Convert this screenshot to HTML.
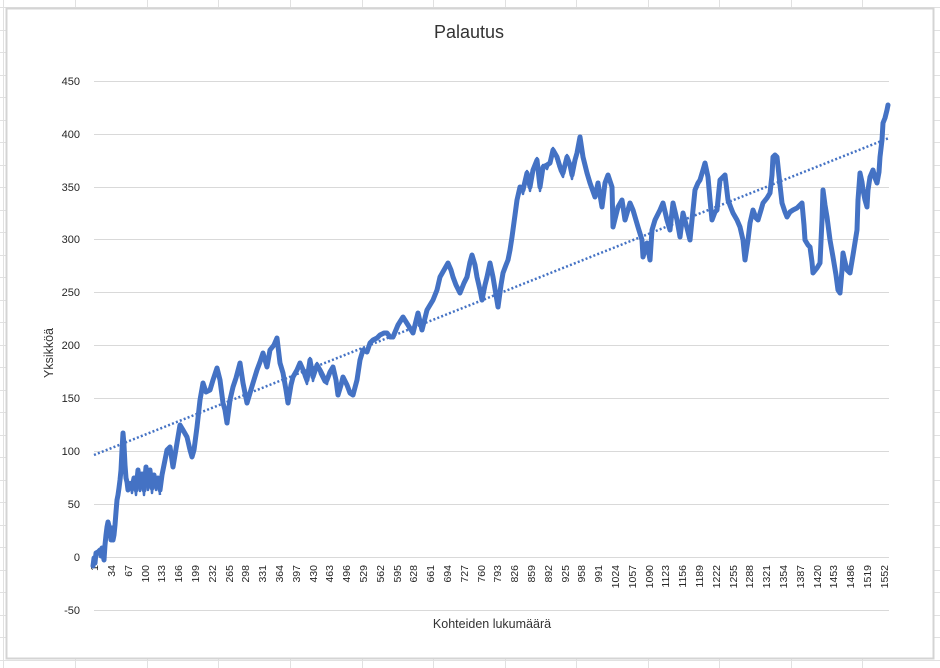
<!DOCTYPE html>
<html>
<head>
<meta charset="utf-8">
<style>
  html,body{margin:0;padding:0;background:#fff;}
  svg{display:block;}
  text{font-family:"Liberation Sans",Arial,sans-serif;}
</style>
</head>
<body>
<svg width="940" height="668" viewBox="0 0 940 668" xmlns="http://www.w3.org/2000/svg">
  <rect x="0" y="0" width="940" height="668" fill="#ffffff"/>
  <g stroke="#e1e1e1" stroke-width="1">
    <line x1="3.5" y1="0" x2="3.5" y2="668"/>
    <line x1="75.5" y1="0" x2="75.5" y2="668"/>
    <line x1="147.5" y1="0" x2="147.5" y2="668"/>
    <line x1="218.5" y1="0" x2="218.5" y2="668"/>
    <line x1="290.5" y1="0" x2="290.5" y2="668"/>
    <line x1="362.5" y1="0" x2="362.5" y2="668"/>
    <line x1="433.5" y1="0" x2="433.5" y2="668"/>
    <line x1="505.5" y1="0" x2="505.5" y2="668"/>
    <line x1="576.5" y1="0" x2="576.5" y2="668"/>
    <line x1="648.5" y1="0" x2="648.5" y2="668"/>
    <line x1="719.5" y1="0" x2="719.5" y2="668"/>
    <line x1="791.5" y1="0" x2="791.5" y2="668"/>
    <line x1="862.5" y1="0" x2="862.5" y2="668"/>
    <line x1="0" y1="7.5" x2="940" y2="7.5"/>
    <line x1="0" y1="30.5" x2="940" y2="30.5"/>
    <line x1="0" y1="52.5" x2="940" y2="52.5"/>
    <line x1="0" y1="75.5" x2="940" y2="75.5"/>
    <line x1="0" y1="97.5" x2="940" y2="97.5"/>
    <line x1="0" y1="120.5" x2="940" y2="120.5"/>
    <line x1="0" y1="142.5" x2="940" y2="142.5"/>
    <line x1="0" y1="165.5" x2="940" y2="165.5"/>
    <line x1="0" y1="187.5" x2="940" y2="187.5"/>
    <line x1="0" y1="210.5" x2="940" y2="210.5"/>
    <line x1="0" y1="232.5" x2="940" y2="232.5"/>
    <line x1="0" y1="255.5" x2="940" y2="255.5"/>
    <line x1="0" y1="277.5" x2="940" y2="277.5"/>
    <line x1="0" y1="300.5" x2="940" y2="300.5"/>
    <line x1="0" y1="322.5" x2="940" y2="322.5"/>
    <line x1="0" y1="345.5" x2="940" y2="345.5"/>
    <line x1="0" y1="367.5" x2="940" y2="367.5"/>
    <line x1="0" y1="390.5" x2="940" y2="390.5"/>
    <line x1="0" y1="412.5" x2="940" y2="412.5"/>
    <line x1="0" y1="435.5" x2="940" y2="435.5"/>
    <line x1="0" y1="457.5" x2="940" y2="457.5"/>
    <line x1="0" y1="480.5" x2="940" y2="480.5"/>
    <line x1="0" y1="502.5" x2="940" y2="502.5"/>
    <line x1="0" y1="525.5" x2="940" y2="525.5"/>
    <line x1="0" y1="547.5" x2="940" y2="547.5"/>
    <line x1="0" y1="570.5" x2="940" y2="570.5"/>
    <line x1="0" y1="592.5" x2="940" y2="592.5"/>
    <line x1="0" y1="615.5" x2="940" y2="615.5"/>
    <line x1="0" y1="637.5" x2="940" y2="637.5"/>
    <line x1="0" y1="660.5" x2="940" y2="660.5"/>
  </g>

  <rect x="6.5" y="8.5" width="927" height="650" fill="#ffffff" stroke="#d4d4d4" stroke-width="2"/>

  <g stroke="#d9d9d9" stroke-width="1">
    <line x1="94" y1="81.5" x2="889" y2="81.5"/>
    <line x1="94" y1="134.5" x2="889" y2="134.5"/>
    <line x1="94" y1="187.5" x2="889" y2="187.5"/>
    <line x1="94" y1="239.5" x2="889" y2="239.5"/>
    <line x1="94" y1="292.5" x2="889" y2="292.5"/>
    <line x1="94" y1="345.5" x2="889" y2="345.5"/>
    <line x1="94" y1="398.5" x2="889" y2="398.5"/>
    <line x1="94" y1="451.5" x2="889" y2="451.5"/>
    <line x1="94" y1="504.5" x2="889" y2="504.5"/>
    <line x1="94" y1="557.5" x2="889" y2="557.5"/>
    <line x1="94" y1="610.5" x2="889" y2="610.5"/>
  </g>

  <text x="469" y="38" font-size="18" fill="#333" text-anchor="middle">Palautus</text>

  <g font-size="11" fill="#262626" text-anchor="end">
    <text x="80" y="85">450</text>
    <text x="80" y="138">400</text>
    <text x="80" y="191">350</text>
    <text x="80" y="243">300</text>
    <text x="80" y="296">250</text>
    <text x="80" y="349">200</text>
    <text x="80" y="402">150</text>
    <text x="80" y="455">100</text>
    <text x="80" y="508">50</text>
    <text x="80" y="561">0</text>
    <text x="80" y="614">-50</text>
  </g>

  <text transform="translate(53,353) rotate(-90)" font-size="12.5" fill="#333" text-anchor="middle">Yksikköä</text>

  <text x="492" y="628" font-size="12.5" fill="#333" text-anchor="middle">Kohteiden lukumäärä</text>

  <g font-size="10.5" fill="#262626" text-anchor="end">
    <text transform="translate(98,565) rotate(-90)">1</text>
    <text transform="translate(115,565) rotate(-90)">34</text>
    <text transform="translate(132,565) rotate(-90)">67</text>
    <text transform="translate(149,565) rotate(-90)">100</text>
    <text transform="translate(165,565) rotate(-90)">133</text>
    <text transform="translate(182,565) rotate(-90)">166</text>
    <text transform="translate(199,565) rotate(-90)">199</text>
    <text transform="translate(216,565) rotate(-90)">232</text>
    <text transform="translate(233,565) rotate(-90)">265</text>
    <text transform="translate(249,565) rotate(-90)">298</text>
    <text transform="translate(266,565) rotate(-90)">331</text>
    <text transform="translate(283,565) rotate(-90)">364</text>
    <text transform="translate(300,565) rotate(-90)">397</text>
    <text transform="translate(317,565) rotate(-90)">430</text>
    <text transform="translate(333,565) rotate(-90)">463</text>
    <text transform="translate(350,565) rotate(-90)">496</text>
    <text transform="translate(367,565) rotate(-90)">529</text>
    <text transform="translate(384,565) rotate(-90)">562</text>
    <text transform="translate(401,565) rotate(-90)">595</text>
    <text transform="translate(417,565) rotate(-90)">628</text>
    <text transform="translate(434,565) rotate(-90)">661</text>
    <text transform="translate(451,565) rotate(-90)">694</text>
    <text transform="translate(468,565) rotate(-90)">727</text>
    <text transform="translate(485,565) rotate(-90)">760</text>
    <text transform="translate(501,565) rotate(-90)">793</text>
    <text transform="translate(518,565) rotate(-90)">826</text>
    <text transform="translate(535,565) rotate(-90)">859</text>
    <text transform="translate(552,565) rotate(-90)">892</text>
    <text transform="translate(569,565) rotate(-90)">925</text>
    <text transform="translate(585,565) rotate(-90)">958</text>
    <text transform="translate(602,565) rotate(-90)">991</text>
    <text transform="translate(619,565) rotate(-90)">1024</text>
    <text transform="translate(636,565) rotate(-90)">1057</text>
    <text transform="translate(653,565) rotate(-90)">1090</text>
    <text transform="translate(669,565) rotate(-90)">1123</text>
    <text transform="translate(686,565) rotate(-90)">1156</text>
    <text transform="translate(703,565) rotate(-90)">1189</text>
    <text transform="translate(720,565) rotate(-90)">1222</text>
    <text transform="translate(737,565) rotate(-90)">1255</text>
    <text transform="translate(753,565) rotate(-90)">1288</text>
    <text transform="translate(770,565) rotate(-90)">1321</text>
    <text transform="translate(787,565) rotate(-90)">1354</text>
    <text transform="translate(804,565) rotate(-90)">1387</text>
    <text transform="translate(821,565) rotate(-90)">1420</text>
    <text transform="translate(837,565) rotate(-90)">1453</text>
    <text transform="translate(854,565) rotate(-90)">1486</text>
    <text transform="translate(871,565) rotate(-90)">1519</text>
    <text transform="translate(888,565) rotate(-90)">1552</text>
  </g>

  <polyline fill="none" stroke="#4472C4" stroke-width="5" stroke-linejoin="round" stroke-linecap="round"
    points="93,566 94,558 95,563 96,553 98,552 100,550 101,556 102,548 104,560 105,545 106,535 107,527 108,522 110,530 111,540 112,528 113,540 114,535 115,525 116,512 117,500 118,495 119,488 120,480 121,470 122,450 123,433 124,445 125,465 126,478 127,482 128,490 130,485 132,488 134,478 136,490 138,470 140,486 142,474 144,490 146,467 148,485 150,470 152,488 154,475 156,485 158,478 160,490 162,475 163,470 165,460 167,450 170,447 173,467 175,455 177,443 180,425 183,430 187,437 190,450 192,457 194,450 197,427 200,400 203,383 206,392 210,390 213,380 217,368 220,380 223,403 225,410 227,423 230,400 233,387 236,378 240,363 243,383 247,403 250,393 253,383 257,370 260,362 263,353 267,367 270,350 274,345 277,338 280,363 283,373 286,390 288,403 291,385 293,377 297,370 300,363 304,372 307,380 310,360 313,377 317,365 320,370 324,378 327,380 330,372 333,367 336,380 338,395 341,385 343,377 347,385 350,393 353,395 357,380 360,360 363,350 367,352 370,343 373,340 377,338 380,335 384,333 387,333 390,337 393,337 398,325 403,317 408,325 413,333 418,313 422,330 427,310 430,305 433,300 437,290 440,277 444,270 448,263 451,270 453,277 456,285 460,293 464,283 467,277 470,262 472,255 475,265 477,277 480,290 482,300 485,285 487,277 490,263 493,277 496,295 498,307 501,285 503,273 506,265 508,260 510,250 512,237 515,215 517,200 520,187 523,190 527,173 530,187 533,170 535,165 537,160 540,187 543,167 547,165 550,163 553,150 557,157 560,167 563,173 567,157 570,165 572,175 575,160 577,153 580,137 583,157 587,173 590,183 595,197 598,183 602,207 605,183 608,175 612,187 613,227 618,207 622,200 625,220 630,203 633,210 638,227 642,240 643,257 647,243 650,260 652,230 655,220 660,210 663,203 667,220 670,230 673,203 677,220 680,237 683,213 687,228 690,240 693,210 695,190 698,183 700,180 703,170 705,163 708,177 710,200 712,220 715,212 717,210 720,180 722,178 725,175 728,200 731,208 733,213 737,220 740,227 743,240 745,260 748,240 750,223 753,210 756,218 758,220 761,210 763,203 767,198 770,193 772,175 773,157 775,155 777,157 780,185 782,203 785,212 787,217 790,212 793,210 797,208 800,205 802,203 804,225 805,240 808,245 810,247 812,262 813,273 817,268 820,263 822,220 823,190 825,205 827,217 830,240 833,257 836,275 838,290 840,293 842,270 843,253 845,262 847,270 850,273 853,255 857,230 858,200 860,173 862,182 863,190 865,200 867,207 868,190 870,177 873,170 875,178 877,183 879,172 880,157 882,140 883,123 885,118 887,110 888,105"/>
  <g fill="none" stroke="#4472C4" stroke-width="2.5" stroke-linejoin="round" transform="translate(0,1)">
    <polyline points="130,480 132,492 134,476 136,494 138,468 140,490 142,472 144,494 146,465 148,489 150,468 152,492 154,473 156,489 158,476 160,494"/>
    <polyline points="300,360 304,375 307,383 310,357 313,380 317,362 320,373 324,381 327,383 330,369 333,364"/>
    <polyline points="520,184 523,193 527,170 530,190 533,167 537,157 540,190 543,164 547,168 550,160 553,147 557,160 560,170 563,176 567,154 570,168 572,178 575,157"/>
  </g>

  <line x1="94" y1="455" x2="889" y2="138" stroke="#4472C4" stroke-width="2.5" stroke-dasharray="2 2.2"/>
</svg>
</body>
</html>
